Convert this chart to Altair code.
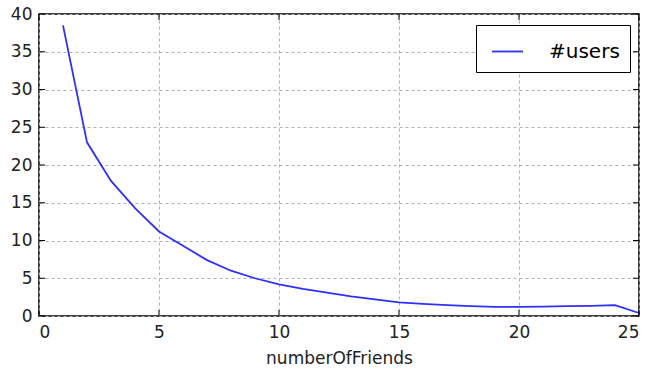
import altair as alt
import pandas as pd

number_of_friends = list(range(1, 26))
users = [38.5, 23.0, 17.9, 14.3, 11.2, 9.3, 7.4, 6.0, 5.0, 4.2, 3.6, 3.1, 2.6, 2.2,
         1.8, 1.6, 1.45, 1.3, 1.2, 1.2, 1.25, 1.3, 1.35, 1.45, 0.4]
series_name = "#users"
x_ticks = [0, 5, 10, 15, 20, 25]
y_ticks = [0, 5, 10, 15, 20, 25, 30, 35, 40]

df = pd.DataFrame({"numberOfFriends": number_of_friends, "users": users,
                   "series": [series_name] * len(users)})
xt = pd.DataFrame({"numberOfFriends": x_ticks})
yt = pd.DataFrame({"users": y_ticks})

FONT = "DejaVu Sans"
FS = 17
W, H = 600, 302

xscale = alt.Scale(domain=[0, 25], nice=False, zero=False)
yscale = alt.Scale(domain=[0, 40], nice=False)
x_axis = alt.Axis(values=x_ticks, title="numberOfFriends", format="d")
y_axis = alt.Axis(values=y_ticks, title=None, format="d")

line = alt.Chart(df).mark_line(strokeWidth=1.8).encode(
    x=alt.X("numberOfFriends:Q", scale=xscale, axis=x_axis),
    y=alt.Y("users:Q", scale=yscale, axis=y_axis),
    color=alt.Color("series:N", scale=alt.Scale(range=["#2f2fff"]),
                    legend=alt.Legend(title=None, orient="none", legendX=437, legendY=11,
                                      strokeColor="#000000", padding=10,
                                      symbolType="stroke", symbolSize=961,
                                      symbolStrokeWidth=1.8, symbolOffset=5,
                                      labelFontSize=20, labelFont=FONT,
                                      labelColor="#000000", labelOffset=25,
                                      fillColor="#ffffff", cornerRadius=0)),
)

tick_style = dict(color="#000000", strokeWidth=1)
bottom = alt.Chart(xt).mark_rule(**tick_style).encode(
    x=alt.X("numberOfFriends:Q", scale=xscale, axis=x_axis), y=alt.value(H), y2=alt.value(H - 6))
top = alt.Chart(xt).mark_rule(**tick_style).encode(
    x=alt.X("numberOfFriends:Q", scale=xscale, axis=x_axis), y=alt.value(0), y2=alt.value(6))
left = alt.Chart(yt).mark_rule(**tick_style).encode(
    y=alt.Y("users:Q", scale=yscale, axis=y_axis), x=alt.value(0), x2=alt.value(6))
right = alt.Chart(yt).mark_rule(**tick_style).encode(
    y=alt.Y("users:Q", scale=yscale, axis=y_axis), x=alt.value(W), x2=alt.value(W - 6))

chart = alt.layer(line, bottom, top, left, right).properties(
    width=W, height=H,
    autosize=alt.AutoSizeParams(type="none"),
    padding={"left": 39, "top": 14, "right": 11, "bottom": 58},
    background="#ffffff",
).configure_view(
    stroke="#000000", strokeWidth=1.5
).configure_axis(
    domain=False, ticks=False, grid=True, labelOverlap=False,
    gridColor="#b0b0b0", gridDash=[3, 3], gridWidth=1,
    labelFont=FONT, labelFontSize=FS, labelColor="#222222",
    titleFont=FONT, titleFontSize=FS, titleFontWeight="normal", titleColor="#222222",
).configure_axisX(
    labelPadding=8, titlePadding=10
).configure_axisY(
    labelPadding=7
)

chart.save("out.html", embed_options={"renderer": "svg", "actions": False})
